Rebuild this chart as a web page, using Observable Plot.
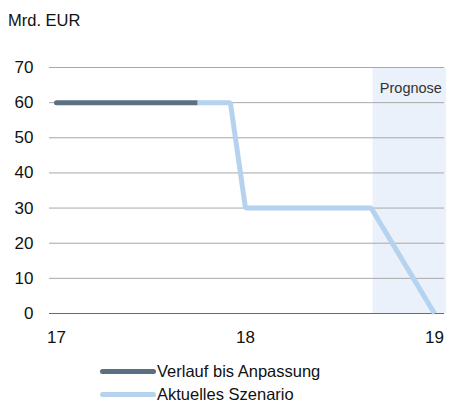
<!DOCTYPE html>
<html><head><meta charset="utf-8">
<script src="https://cdn.jsdelivr.net/npm/d3@7"></script>
<script src="https://cdn.jsdelivr.net/npm/@observablehq/plot@0.6"></script>
<style>
body{margin:0;background:#fff;font-family:"Liberation Sans",Arial,sans-serif;}
#wrap{position:relative;width:449px;height:403px;overflow:hidden;}
#title{position:absolute;left:8px;top:11px;font-size:16.5px;color:#111;}
.leg{position:absolute;left:100px;font-size:16.5px;color:#111;display:flex;align-items:center;}
.sw{width:56px;height:5px;border-radius:3px;margin-right:1px;}
</style></head><body>
<div id="wrap"><div id="title">Mrd. EUR</div><div id="chart"></div>
<div class="leg" style="top:362px"><div class="sw" style="background:#5b6f83"></div>Verlauf bis Anpassung</div>
<div class="leg" style="top:385px"><div class="sw" style="background:#b5d3ef"></div>Aktuelles Szenario</div>
</div>
<script>
const histX = [17, 17.745];
const histY = [60, 60];
const scenX = [17.745, 17.92, 18.0, 18.665, 19.0];
const scenY = [60, 60, 30, 30, 0];
const yTicks = [0, 10, 20, 30, 40, 50, 60, 70];
const xTicks = [17, 18, 19];
const forecastStart = 18.675;
const forecastLabel = "Prognose";

const hist = histX.map((x, i) => ({x, y: histY[i]}));
const scen = scenX.map((x, i) => ({x, y: scenY[i]}));

const plot = Plot.plot({
  width: 449, height: 350,
  marginTop: 67, marginBottom: 37, marginLeft: 49, marginRight: 5,
  style: {fontFamily: '"Liberation Sans", Arial, sans-serif', fontSize: "17px", color: "#111"},
  x: {domain: [16.963, 19.053], ticks: xTicks, tickFormat: d => String(d), tickSize: 0, tickPadding: 17, label: null},
  y: {domain: [0, 70], ticks: yTicks, tickSize: 0, tickPadding: 16, label: null},
  marks: [
    Plot.rect([{x1: forecastStart, x2: 19.063}], {x1: "x1", x2: "x2", y1: 0, y2: 69.8, fill: "#eaf1fa", clip: false}),
    Plot.ruleY(yTicks.filter(d => d > 0), {stroke: "#a8a8a8", strokeWidth: 1}),
    Plot.ruleY([0], {stroke: "#6a6a6a", strokeWidth: 1}),
    Plot.text([forecastLabel], {x: 18.875, y: 64, text: d => d, fontSize: 14.5, fill: "#333"}),
    Plot.line(hist, {x: "x", y: "y", stroke: "#5b6f83", strokeWidth: 5, strokeLinecap: "round"}),
    Plot.line(scen, {x: "x", y: "y", stroke: "#b5d3ef", strokeWidth: 5, strokeLinecap: "butt", strokeLinejoin: "miter"})
  ]
});
document.getElementById("chart").appendChild(plot);
</script></body></html>
